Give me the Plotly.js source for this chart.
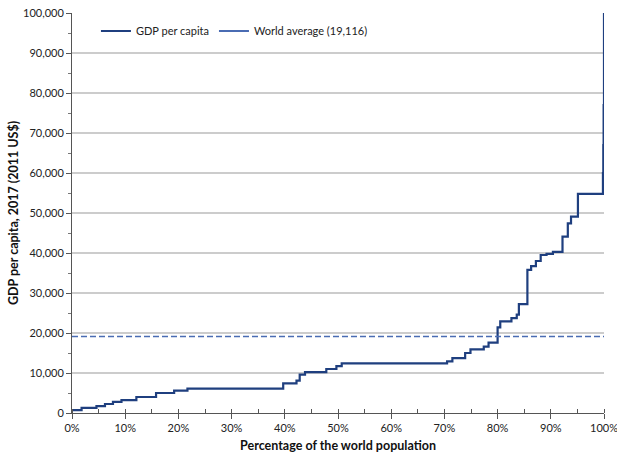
<!DOCTYPE html>
<html>
<head>
<meta charset="utf-8">
<script src="https://cdn.plot.ly/plotly-3.0.1.min.js"></script>
<style>html,body{margin:0;padding:0;background:#fff;}#chart{width:617px;height:453px;}</style>
</head>
<body>
<div id="chart"></div>
<script>
// Cumulative share of world population (%) where each GDP-per-capita step begins
const populationShare = [0, 1.8, 4.6, 6.2, 7.7, 9.3, 12.1, 15.8, 19.2, 21.7,
  39.7, 42.2, 42.8, 43.8, 47.8, 49.7, 50.7,
  70.5, 71.5, 73.9, 74.9, 77.4, 78.3, 80.0, 80.5, 82.6, 83.6, 84.0,
  85.6, 86.3, 87.2, 88.1, 89.2, 90.4, 92.2, 93.2, 93.8, 95.1,
  99.8, 99.87, 99.93, 100];
// GDP per capita, 2017 (2011 US$)
const gdpPerCapita = [700, 1300, 1700, 2250, 2800, 3200, 4000, 5000, 5600, 6100,
  7400, 8100, 9600, 10200, 11000, 11700, 12400,
  12900, 13700, 15000, 15900, 16600, 17600, 21400, 22900, 23700, 24600, 27200,
  35800, 36700, 38000, 39500, 39800, 40300, 44100, 47400, 49100, 54800,
  60000, 67000, 77000, 100000];
const worldAverage = 19116;
const xRange = [0, 100];

const navy = '#1f3f7f';
const avgBlue = '#4a6cb3';

const traces = [
  {
    x: populationShare, y: gdpPerCapita, type: 'scatter', mode: 'lines',
    line: {shape: 'hv', color: navy, width: 2.2},
    name: 'GDP per capita', hoverinfo: 'skip'
  },
  {
    x: xRange, y: [worldAverage, worldAverage], type: 'scatter', mode: 'lines',
    line: {color: avgBlue, width: 1.5, dash: '6px,3px'},
    showlegend: false, hoverinfo: 'skip'
  },
  {
    x: [null], y: [null], type: 'scatter', mode: 'lines',
    line: {color: avgBlue, width: 1.8},
    name: 'World average (' + worldAverage.toLocaleString('en-US') + ')'
  }
];

const font = 'Lato, "Open Sans", Arial, sans-serif';

const layout = {
  width: 617, height: 453,
  margin: {l: 72, r: 13, t: 13, b: 40},
  paper_bgcolor: '#fff', plot_bgcolor: '#fff',
  font: {family: font, size: 11, color: '#222'},
  showlegend: true,
  legend: {
    orientation: 'h', x: 0.045, y: 0.955, xanchor: 'left', yanchor: 'middle',
    bgcolor: 'rgba(0,0,0,0)', font: {size: 11, color: '#222'},
    itemwidth: 30, tracegroupgap: 0
  },
  xaxis: {
    range: xRange, dtick: 10, ticksuffix: '%',
    showgrid: false, zeroline: false,
    showline: true, linecolor: '#555', linewidth: 1,
    ticks: 'outside', ticklen: 5, tickcolor: '#555', tickwidth: 1,
    ticklabeloverflow: 'allow',
    minor: {dtick: 5, ticks: 'inside', ticklen: 4, tickcolor: '#555', showgrid: false},
    tickfont: {size: 11, color: '#222'},
    automargin: false,
    title: {text: '<b>Percentage of the world population</b>', font: {size: 12.5, color: '#111'}, standoff: 8}
  },
  yaxis: {
    range: [0, 100000], dtick: 10000, tickformat: ',d',
    showgrid: true, gridcolor: '#cccccc', gridwidth: 1.5,
    zeroline: false,
    showline: true, linecolor: '#555', linewidth: 1,
    ticks: 'outside', ticklen: 5, tickcolor: '#555',
    minor: {dtick: 5000, ticks: 'outside', ticklen: 3, tickcolor: '#777', showgrid: false},
    tickfont: {size: 11, color: '#222'},
    automargin: false,
    title: {text: '<b>GDP per capita, 2017 (2011 US$)</b>', font: {size: 12.5, color: '#111'}, standoff: 1}
  }
};

Plotly.newPlot('chart', traces, layout, {displayModeBar: false, staticPlot: true});
</script>
</body>
</html>
